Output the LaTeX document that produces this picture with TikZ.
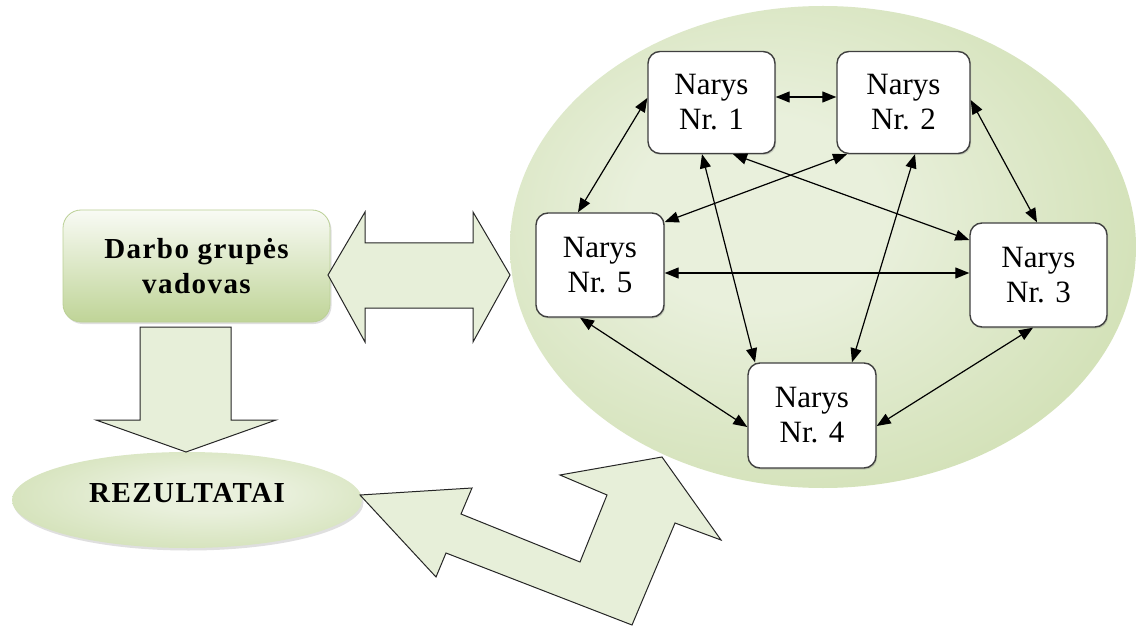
\documentclass[tikz,border=0pt]{standalone}
\usepackage{fontspec}
\setmainfont{Liberation Serif}
\usetikzlibrary{shapes.geometric,arrows.meta,shadows}
\definecolor{gLight}{HTML}{E9F0DC}
\definecolor{gDark}{HTML}{BFD497}
\definecolor{gArrow}{HTML}{E7EFD9}
\definecolor{gEdge}{HTML}{BBD096}
\pgfdeclareradialshading{teamshade}{\pgfpoint{-6bp}{4bp}}{color(0bp)=(gLight); color(10bp)=(gLight); color(48bp)=(gDark); color(80bp)=(gDark)}
\pgfdeclareradialshading{resshade}{\pgfpoint{4bp}{4bp}}{color(0bp)=(gLight); color(10bp)=(gLight); color(50bp)=(gDark); color(80bp)=(gDark)}
\begin{document}
\begin{tikzpicture}[x=1pt,y=-1pt,
  member/.style={draw=black!75, line width=1.4pt, fill=white, rounded corners=12pt,
    minimum height=102pt, align=center, inner sep=0pt,
    font=\fontsize{31}{35}\selectfont,
    drop shadow={shadow xshift=1.2pt, shadow yshift=-1.5pt, opacity=0.3}},
  link/.style={{Triangle[length=14pt,width=11pt]}-{Triangle[length=14pt,width=11pt]}, line width=1.2pt, black},
  blockarrow/.style={draw=black!85, line width=1pt, fill=gArrow, line join=miter},
  boldtext/.style={font=\fontsize{29}{35}\selectfont\bfseries\addfontfeature{LetterSpace=5}}
]
\fill[white] (0,0) rectangle (1137,628);
\useasboundingbox (0,0) rectangle (1137,628);

% big ellipse (team)
\node (team) [ellipse, inner sep=0pt, minimum width=626pt, minimum height=482pt,
  shading=teamshade] at (823,247) {};

% leader
\node (lead) [rounded corners=18pt, minimum width=267pt, minimum height=112pt,
  top color=gLight!30!white, bottom color=gDark, draw=gEdge, line width=0.8pt,
  align=center, boldtext,
  drop shadow={shadow xshift=1.5pt, shadow yshift=-2pt, opacity=0.25}]
  at (196.5,266) {Darbo grupės\\vadovas};

% results
\node (res) [ellipse, inner sep=0pt, minimum width=350pt, minimum height=96pt,
  shading=resshade, boldtext, text height=19pt, text depth=15pt,
  drop shadow={shadow xshift=1.5pt, shadow yshift=-2.5pt, opacity=0.25}]
  at (187,500) {REZULTATAI};

% members
\node (n1) [member, minimum width=127pt] at (711.5,102.5) {Narys\\Nr. 1};
\node (n2) [member, minimum width=133pt] at (903.5,102.5) {Narys\\Nr. 2};
\node (n5) [member, minimum width=128pt, minimum height=104pt] at (600,265) {Narys\\Nr. 5};
\node (n3) [member, minimum width=137pt, minimum height=104pt] at (1038.5,275) {Narys\\Nr. 3};
\node (n4) [member, minimum width=128pt, minimum height=105pt] at (812,415.5) {Narys\\Nr. 4};

% links between members
\draw[link] ([yshift=5.5pt]n1.east) -- ([yshift=5.5pt]n2.west);
\draw[link] ([xshift=-22pt]n5.north) -- ([yshift=4.5pt]n1.west);
\draw[link] ([yshift=2.5pt]n2.east) -- ([xshift=-1.5pt]n3.north);
\draw[link] ([xshift=-9.5pt]n1.south) -- ([xshift=-57pt]n4.north);
\draw[link] ([xshift=11.5pt]n2.south) -- ([xshift=40pt]n4.north);
\draw[link] ([xshift=21.5pt]n1.south) -- ([yshift=35pt]n3.west);
\draw[link] ([xshift=-56.5pt]n2.south) -- ([yshift=43pt]n5.east);
\draw[link] ([yshift=-8pt]n5.east) -- ([yshift=2pt]n3.west);
\draw[link] ([xshift=-20pt]n5.south) -- ([yshift=-11.5pt]n4.west);
\draw[link] ([xshift=-5.5pt]n3.south) -- ([yshift=-10.5pt]n4.east);

% block arrow leader <-> team
\draw[blockarrow] (328,275) -- (365,212) -- (365,243) -- (473,243) -- (473,212)
  -- (510,275) -- (473,342) -- (473,308) -- (365,308) -- (365,342) -- cycle;

% block arrow leader -> results
\draw[blockarrow] (140,327) -- (231,327) -- (231,420) -- (276,420) -- (186,452)
  -- (96,420) -- (140,420) -- cycle;

% bent block arrow team <-> results
\draw[blockarrow] (360,495) -- (472,488) -- (461,514) -- (580,562) -- (607,495)
  -- (560,475) -- (662,457) -- (721,540) -- (675,523) -- (632,625)
  -- (446,553) -- (436,577) -- cycle;
\end{tikzpicture}
\end{document}
